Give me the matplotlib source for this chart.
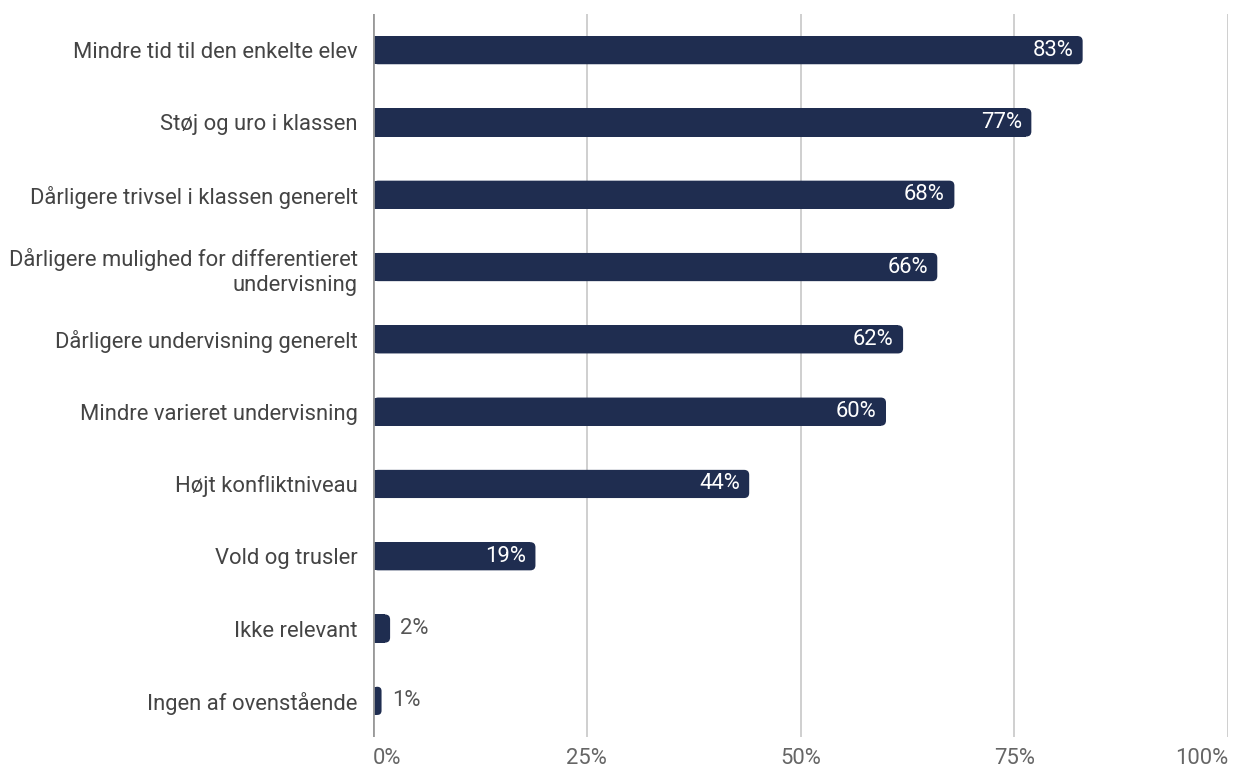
import matplotlib.pyplot as plt
from matplotlib.patches import FancyBboxPatch

plt.rcParams['font.family'] = ['Roboto', 'DejaVu Sans']

# data
kategorier = [
    "Mindre tid til den enkelte elev",
    "Støj og uro i klassen",
    "Dårligere trivsel i klassen generelt",
    "Dårligere mulighed for differentieret\nundervisning",
    "Dårligere undervisning generelt",
    "Mindre varieret undervisning",
    "Højt konfliktniveau",
    "Vold og trusler",
    "Ikke relevant",
    "Ingen af ovenstående",
]
andele = [83, 77, 68, 66, 62, 60, 44, 19, 2, 1]
xticks = [0, 25, 50, 75, 100]
xticklabels = ["0%", "25%", "50%", "75%", "100%"]

navy = "#1f2d50"
fs = 15.8

fig = plt.figure(figsize=(12.35, 7.7), dpi=100)
ax = fig.add_axes([373 / 1235, 1 - 737 / 770, 855 / 1235, 723 / 770])

ypos = list(range(len(kategorier)))
bars = ax.barh(ypos, andele, height=0.39, color=navy, zorder=3)

ax.set_xlim(0, 100)
ax.set_ylim(len(kategorier) - 0.5, -0.5)

# afrundede hjørner i højre side
r = 0.6
aspect = (855 / 100) / (723 / 10)
for b in bars:
    w = b.get_width()
    rb = FancyBboxPatch((b.get_x(), b.get_y()), w, b.get_height(),
                        boxstyle=f"round,pad=0,rounding_size={min(r, w / 2)}",
                        mutation_aspect=aspect, facecolor=navy,
                        edgecolor="none", zorder=3)
    ax.add_patch(rb)
    b.set_width(max(w - r, 0) if w > 2 * r else w / 2)

for y, v in zip(ypos, andele):
    if v >= 10:
        ax.text(v - 1.1, y, f"{v}%", ha="right", va="center",
                color="white", fontsize=fs, zorder=4)
    else:
        ax.text(v + 1.2, y, f"{v}%", ha="left", va="center",
                color="#555555", fontsize=fs, zorder=4)

ax.set_yticks(ypos)
ax.set_yticklabels(kategorier, fontsize=fs, color="#444444", ha="right",
                   linespacing=1.3)
ax.tick_params(axis="y", length=0, pad=11)

ax.set_xticks(xticks)
ax.set_xticklabels(xticklabels, fontsize=fs, color="#666666")
ax.tick_params(axis="x", length=0, pad=8)
labs = ax.get_xticklabels()
labs[0].set_ha("left")
labs[-1].set_ha("right")

ax.grid(axis="x", color="#cccccc", linewidth=1.3, zorder=0)
ax.axvline(0, color="#999999", linewidth=2, zorder=5)
for s in ax.spines.values():
    s.set_visible(False)

fig.savefig("out.png", dpi=100)
